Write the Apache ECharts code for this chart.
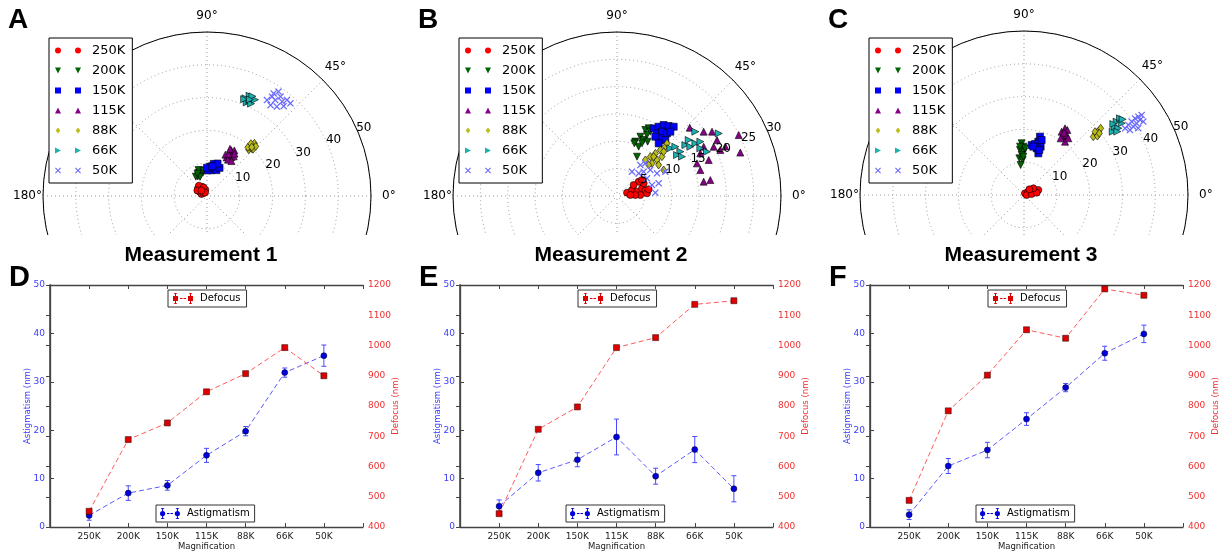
<!DOCTYPE html>
<html>
<head>
<meta charset="utf-8">
<script src="https://cdn.jsdelivr.net/npm/echarts@6/dist/echarts.min.js"></script>
<style>
html, body { margin: 0; padding: 0; background: #fff; }
#polar { position: absolute; left: 0; top: 0; width: 1232px; height: 235px; }
#lines { position: absolute; left: 0; top: 235px; width: 1232px; height: 319px; }
</style>
</head>
<body>
<div id="polar"></div>
<div id="lines"></div>
<script>
var magnifications = ['250K', '200K', '150K', '115K', '88K', '66K', '50K'];

// polar scatter, [astigmatism (nm), angle (deg)] per magnification
var polarPoints1 = [
    [[2.2,120],[3.0,130],[3.6,140],[2.6,150],[1.8,160],[3.2,118],[4.0,128],[2.0,105],[1.4,140],[2.8,112],[3.4,150],[1.2,120],[2.4,135]],
    [[7.0,105],[7.5,110],[8.0,104],[6.6,115],[7.2,100],[8.3,108],[6.8,120],[7.8,98],[6.2,110],[7.4,113]],
    [[8.0,80],[8.8,76],[9.6,72],[9.0,84],[8.4,70],[10.0,78],[7.8,88],[9.4,66],[8.6,90],[10.4,72],[9.2,80]],
    [[13.2,63],[14.0,58],[15.0,60],[15.8,62],[13.8,66],[14.6,56],[16.2,59],[12.8,60],[14.4,63],[15.4,57],[13.0,55],[16.0,64]],
    [[19.0,48],[19.8,47],[20.4,48.5],[21.0,47],[21.6,48],[20.0,45.5],[19.4,50],[20.8,50],[21.2,45.5],[20.2,47.5]],
    [[31.0,67],[31.8,66],[32.6,65],[33.2,67],[32.0,68.5],[31.2,64.5],[32.8,63.5],[31.6,69],[33.4,65.5],[32.2,66]],
    [[34.5,58],[37.3,57],[38.6,55.6],[33.8,55],[34.6,52],[36.8,51.5],[38.1,50.2],[38.0,48],[35.9,54.6],[36.2,56.8],[37.7,53.5],[36.0,49.5]]
];
var polarPoints2 = [
    [[1.93,18.4],[2.95,21.8],[3.74,12.2],[4.78,17],[5.27,10.7],[4.27,2.4],[3.36,3],[5.4,25.4],[4.75,33.5],[5.51,5.1],[3.65,33.4],[5.43,32.7],[2.45,4.3],[5.92,11.9]],
    [[10.5,71.4],[11.66,68.5],[13.14,66.8],[13.67,64.9],[11.35,64.5],[9.85,66.3],[12.43,63.8],[13.26,62.6],[8.07,63],[10.66,64.6],[10.14,71.8],[11.41,60.6]],
    [[14.08,61.5],[14.79,59],[15.54,56.7],[15.91,53.6],[16.38,50.7],[13.6,57.4],[14.36,55],[14.67,51.4],[13.2,53.1],[13.53,49.2],[12.92,57.1],[15.29,50.3],[12.28,51.6]],
    [[18.25,43.2],[19.74,36.6],[20.96,29.2],[24.9,26.6],[23.91,19.4],[18.24,29.6],[19.85,27],[18.02,21.4],[15.97,17.3],[16.07,9.4],[17.32,9.7],[17.12,27.1],[20.69,24],[15.8,22.2],[20.99,34.1],[21.78,24.5]],
    [[8.38,51.8],[9.43,49.7],[10.49,48],[11.56,46.7],[12.63,45.6],[13.28,46.5],[9.85,42],[8.76,43],[10.93,41.2],[8.11,44.4],[9.5,36.7],[9.78,29.1],[9.84,47],[11.78,43.5]],
    [[13.09,41.8],[13.97,40.2],[14.15,35],[15.6,36.7],[16.16,33.9],[17.27,33.9],[17.56,29.8],[18.54,39.4],[21.85,31.6],[13.3,34.3],[13.9,31.2],[18.35,26.2],[16.64,38],[18.2,33.1]],
    [[5.23,58.4],[7.1,53],[7.91,49.1],[7.73,38],[6.6,42.4],[5.74,46.3],[8.41,29.5],[6.71,17.4],[7.97,16.9],[7.04,5],[9.9,26.7],[6.37,30.5]]
];
var polarPoints3 = [
    [[0.59,59],[1.67,37.7],[2.69,29.4],[3.68,24.4],[4.63,19.2],[0.81,0],[2.36,7.3],[3.93,10.4],[3.5,35.5],[2.37,46.7]],
    [[15.77,92.6],[14.74,90.8],[13.77,95.1],[13.21,90],[12.22,93.3],[11.27,97.2],[10.68,92.2],[9.2,96.4],[14.23,88.8],[14.79,94.7],[11.69,91]],
    [[15.42,81.3],[15.91,77.8],[16.84,75],[18.44,74.7],[15.59,71],[14.74,74.8],[13.43,71],[15.01,79.1],[17.61,72.2],[14.49,71.2]],
    [[22.46,59.3],[23.86,58.4],[23.82,56.3],[21.45,56],[22.45,54.6],[20.58,57.1],[20.51,52.4],[21.94,52],[22.58,57.3]],
    [[27.62,40.1],[28.9,40.6],[30.05,40.7],[30.98,41],[29.01,41.7],[28.7,38.8],[29.68,39.3]],
    [[33.22,35.5],[34.69,36.9],[36.03,38.4],[37.46,38.6],[36.94,36.3],[35.22,35.3],[34.79,38.5],[37.91,37.5],[34.39,34.2]],
    [[36.9,33.4],[38.31,33.9],[39.72,34.3],[41.13,34.6],[42.25,34.4],[43.38,34.2],[39.3,32],[40.71,32.5],[42.12,32.9],[37.91,31.5],[42.7,31.6],[40.35,30.3]]
];
var polarMax = [50, 30, 50];
var polarStep = [10, 5, 10];

// mean astigmatism / defocus per magnification
var astig1 = [2.4, 7.0, 8.6, 14.8, 19.8, 31.9, 35.4];
var astigErr1 = [1.0, 1.5, 1.0, 1.45, 0.95, 0.95, 2.2];
var defocus1 = [452, 689, 744, 847, 907, 993, 900];
var astig2 = [4.3, 11.2, 13.9, 18.6, 10.5, 16.0, 7.9];
var astigErr2 = [1.3, 1.7, 1.45, 3.7, 1.65, 2.7, 2.7];
var defocus2 = [444, 723, 797, 993, 1026, 1136, 1148];
var astig3 = [2.55, 12.6, 15.9, 22.3, 28.8, 35.9, 39.9];
var astigErr3 = [1.0, 1.55, 1.6, 1.3, 0.85, 1.45, 1.8];
var defocus3 = [488, 784, 902, 1052, 1024, 1187, 1166];

var FONT = 'DejaVu Sans';

var markerColors = ['#ff0000', '#006400', '#0000ff', '#880088', '#bcbc1a', '#1fb0b0', '#6a6aff'];
var markerSymbols = [
    'circle',
    'path://M0,0L2,0L1,2Z',
    'rect',
    'triangle',
    'path://M3,0L5.5,4L3,8L0.5,4Z',
    'path://M0,0L2,1L0,2Z',
    'path://M0,0.75L0.75,0L3,2.25L5.25,0L6,0.75L3.75,3L6,5.25L5.25,6L3,3.75L0.75,6L0,5.25L2.25,3Z'
];
var markerSizes = [7, 7, 7, 7, [6, 8], 7, 7];
// two markers side by side, like the matplotlib legend
var legendIcons = [
    'path://M0,3A3,3,0,1,1,6,3A3,3,0,1,1,0,3Z M20,3A3,3,0,1,1,26,3A3,3,0,1,1,20,3Z',
    'path://M0,0L6,0L3,6Z M20,0L26,0L23,6Z',
    'path://M0,0H6V6H0Z M20,0H26V6H20Z',
    'path://M0,6L6,6L3,0Z M20,6L26,6L23,0Z',
    'path://M3,0L5.3,3L3,6L0.7,3Z M23,0L25.3,3L23,6L20.7,3Z',
    'path://M0,0L6,3L0,6Z M20,0L26,3L20,6Z',
    'path://M0,0.75L0.75,0L3,2.25L5.25,0L6,0.75L3.75,3L6,5.25L5.25,6L3,3.75L0.75,6L0,5.25L2.25,3Z M20,0.75L20.75,0L23,2.25L25.25,0L26,0.75L23.75,3L26,5.25L25.25,6L23,3.75L20.75,6L20,5.25L22.25,3Z'
];

var polarCenters = [[207, 196], [617, 196], [1024, 195]];
var panelLeft = [0, 410, 820];
var letters = ['A', 'B', 'C'];

var polarChart = echarts.init(document.getElementById('polar'), null, { renderer: 'canvas' });
var polar = [], angleAxis = [], radiusAxis = [], pSeries = [], pLegend = [], pGraphic = [];
var allPoints = [polarPoints1, polarPoints2, polarPoints3];

for (var k = 0; k < 3; k++) {
    // the grid polar
    polar.push({ center: polarCenters[k], radius: 164 });
    angleAxis.push({
        polarIndex: k, type: 'value', min: 0, max: 360, interval: 45,
        startAngle: 0, clockwise: false, z: 1,
        axisLine: { show: true, lineStyle: { color: '#000', width: 1 } },
        axisTick: { show: false },
        axisLabel: {
            margin: 1, fontSize: 12, color: '#000', fontFamily: FONT,
            formatter: function (v) { return v <= 180 ? '{a' + v + '|' + v + '°}' : ''; },
            rich: {
                a0: { fontSize: 12, padding: [0, 0, 0, 10] },
                a45: { fontSize: 12, padding: [0, 0, 6, 1] },
                a90: { fontSize: 12, padding: [0, 0, 9, 0] },
                a135: { fontSize: 12, padding: [0, 1, 6, 0] },
                a180: { fontSize: 12 }
            }
        },
        splitLine: { show: true, lineStyle: { color: '#999', type: [1, 3], width: 1 } }
    });
    radiusAxis.push({
        polarIndex: k, type: 'value', min: 0, max: polarMax[k], interval: polarStep[k], z: 1,
        axisLine: { show: false }, axisTick: { show: false }, axisLabel: { show: false },
        splitLine: { show: true, lineStyle: { color: '#999', type: [1, 3], width: 1 } }
    });
}
for (var k = 0; k < 3; k++) {
    // a second polar only for the radius labels along 22.5 deg
    polar.push({ center: polarCenters[k], radius: 164 });
    angleAxis.push({
        polarIndex: 3 + k, type: 'value', min: 0, max: 360, startAngle: 22.5, clockwise: false,
        show: false
    });
    radiusAxis.push({
        polarIndex: 3 + k, type: 'value', min: 0, max: polarMax[k], interval: polarStep[k], z: 3,
        axisLine: { show: false }, axisTick: { show: false }, splitLine: { show: false },
        axisLabel: {
            fontSize: 12, color: '#000', fontFamily: FONT, margin: 6, align: 'left',
            formatter: function (v) { return v === 0 ? '' : String(v); }
        }
    });
}

for (var k = 0; k < 3; k++) {
    var legendData = [];
    for (var j = 0; j < magnifications.length; j++) {
        pSeries.push({
            type: 'scatter', coordinateSystem: 'polar', polarIndex: k,
            name: magnifications[j],
            data: allPoints[k][j],
            symbol: markerSymbols[j],
            symbolSize: markerSizes[j],
            itemStyle: {
                color: markerColors[j],
                borderColor: j === 6 ? markerColors[j] : '#000',
                borderWidth: j === 6 ? 0 : 0.6,
                opacity: 1
            },
            emphasis: { disabled: true },
            z: 2
        });
        legendData.push({ name: magnifications[j], icon: legendIcons[j] });
    }
    pLegend.push({
        left: panelLeft[k] + 49, top: 38, orient: 'vertical',
        data: legendData,
        itemWidth: 26, itemHeight: 6, itemGap: 5,
        padding: [5, 7, 5, 6],
        backgroundColor: '#fff', borderColor: '#000', borderWidth: 1,
        selectedMode: false, z: 10,
        itemStyle: { borderWidth: 0 },
        textStyle: { fontSize: 13, lineHeight: 15, color: '#000', fontFamily: FONT, padding: [0, 0, 0, 6] }
    });
    pGraphic.push({
        type: 'text', left: panelLeft[k] + 8, top: 6, z: 20,
        style: { text: letters[k], font: 'bold 28px "Liberation Sans", Arial', fill: '#000' }
    });
}

polarChart.setOption({
    animation: false,
    textStyle: { fontFamily: FONT },
    polar: polar,
    angleAxis: angleAxis,
    radiusAxis: radiusAxis,
    legend: pLegend,
    series: pSeries,
    graphic: pGraphic
});

// ---- bottom row: astigmatism and defocus vs magnification ----
var lineChart = echarts.init(document.getElementById('lines'), null, { renderer: 'canvas' });
var gridLeft = [50, 460, 870];
var astigAll = [astig1, astig2, astig3];
var astigErrAll = [astigErr1, astigErr2, astigErr3];
var defocusAll = [defocus1, defocus2, defocus3];
var titles = ['Measurement 1', 'Measurement 2', 'Measurement 3'];
var titleCenters = [201, 611, 1021];
var lowLetters = ['D', 'E', 'F'];
var letterX = [9, 419, 829];

var BLUE_MARK = '#0000dd', BLUE_LINE = '#5a5aff', BLUE_TEXT = '#3b3bff';
var RED_MARK = '#dd0000', RED_LINE = '#ff5a5a', RED_TEXT = '#f03030';
var SPINE = '#444';

var defocusIcon = 'path://M0,3H5V8H0Z M2,0H3V11H2Z M1,0H4V0.8H1Z M1,10.2H4V11H1Z M7,5H9.5V6H7Z M10.5,5H13V6H10.5Z M15,3H20V8H15Z M17,0H18V11H17Z M16,0H19V0.8H16Z M16,10.2H19V11H16Z';
var astigIcon = 'path://M0,5.5A2.6,2.6,0,1,1,5.2,5.5A2.6,2.6,0,1,1,0,5.5Z M2.1,0H3.1V11H2.1Z M1,0H4.2V0.8H1Z M1,10.2H4.2V11H1Z M7,5H9.5V6H7Z M10.5,5H13V6H10.5Z M14.8,5.5A2.6,2.6,0,1,1,20,5.5A2.6,2.6,0,1,1,14.8,5.5Z M16.9,0H17.9V11H16.9Z M15.8,0H19V0.8H15.8Z M15.8,10.2H19V11H15.8Z';

function errorBars(color) {
    return function (params, api) {
        var x = api.value(0);
        var lo = api.coord([x, api.value(1)]);
        var hi = api.coord([x, api.value(2)]);
        var w = 2.5;
        var style = { stroke: color, lineWidth: 1 };
        return {
            type: 'group',
            children: [
                { type: 'line', shape: { x1: lo[0], y1: lo[1], x2: hi[0], y2: hi[1] }, style: style },
                { type: 'line', shape: { x1: lo[0] - w, y1: lo[1], x2: lo[0] + w, y2: lo[1] }, style: style },
                { type: 'line', shape: { x1: hi[0] - w, y1: hi[1], x2: hi[0] + w, y2: hi[1] }, style: style }
            ]
        };
    };
}

var grids = [], xAxes = [], yAxes = [], lSeries = [], lLegend = [], lGraphic = [];
for (var k = 0; k < 3; k++) {
    grids.push({
        left: gridLeft[k], top: 50, width: 313, height: 242, show: false,
        outerBoundsMode: 'none', containLabel: false
    });
    var xBase = {
        gridIndex: k, type: 'value', min: 0, max: 8, interval: 1,
        axisLine: { show: true, onZero: false, lineStyle: { color: SPINE, width: 1.3 } },
        axisTick: { show: true, inside: true, length: 4, lineStyle: { color: SPINE } },
        splitLine: { show: false }
    };
    xAxes.push(Object.assign({}, xBase, {
        position: 'bottom',
        name: 'Magnification', nameLocation: 'middle', nameGap: 15, nameMoveOverlap: false,
        nameTextStyle: { fontSize: 8.5, color: '#222', fontFamily: FONT },
        axisLabel: {
            fontSize: 9, color: '#222', margin: 5, fontFamily: FONT,
            formatter: function (v) { return magnifications[v - 1] || ''; }
        }
    }));
    xAxes.push(Object.assign({}, xBase, { position: 'top', axisLabel: { show: false } }));
    yAxes.push({
        gridIndex: k, type: 'value', position: 'left', min: 0, max: 50, interval: 10,
        axisLine: { show: true, lineStyle: { color: SPINE, width: 1.3 } },
        axisTick: { show: true, inside: true, length: 4, lineStyle: { color: SPINE } },
        axisLabel: { fontSize: 9, color: BLUE_TEXT, margin: 5, fontFamily: FONT },
        splitLine: { show: false },
        name: 'Astigmatism (nm)', nameLocation: 'middle', nameGap: 17.5, nameMoveOverlap: false,
        nameTextStyle: { fontSize: 8.5, color: BLUE_TEXT, fontFamily: FONT }
    });
    yAxes.push({
        gridIndex: k, type: 'value', position: 'right', min: 400, max: 1200, interval: 100,
        axisLine: { show: true, lineStyle: { color: SPINE, width: 1.6 } },
        axisTick: { show: true, inside: true, length: 4, lineStyle: { color: SPINE } },
        axisLabel: {
            fontSize: 9, color: RED_TEXT, margin: 5, fontFamily: FONT,
            formatter: function (v) { return String(v); }
        },
        splitLine: { show: false },
        name: 'Defocus (nm)', nameLocation: 'middle', nameGap: 28, nameMoveOverlap: false,
        nameTextStyle: { fontSize: 8.5, color: RED_TEXT, fontFamily: FONT }
    });

    var astigData = [], errData = [], defocusData = [];
    for (var i = 0; i < magnifications.length; i++) {
        astigData.push([i + 1, astigAll[k][i]]);
        errData.push([i + 1, astigAll[k][i] - astigErrAll[k][i], astigAll[k][i] + astigErrAll[k][i]]);
        defocusData.push([i + 1, defocusAll[k][i]]);
    }
    lSeries.push({
        type: 'custom', name: 'astigErr' + k, xAxisIndex: 2 * k, yAxisIndex: 2 * k,
        renderItem: errorBars('#4a4aff'), data: errData,
        encode: { x: 0, y: [1, 2] }, z: 3, silent: true
    });
    lSeries.push({
        type: 'line', name: 'Astigmatism', xAxisIndex: 2 * k, yAxisIndex: 2 * k,
        data: astigData, symbol: 'circle', symbolSize: 6,
        itemStyle: { color: BLUE_MARK, borderColor: '#000022', borderWidth: 0.5 },
        lineStyle: { color: BLUE_LINE, width: 1, type: [5, 3] },
        z: 4, emphasis: { disabled: true }
    });
    lSeries.push({
        type: 'line', name: 'Defocus', xAxisIndex: 2 * k, yAxisIndex: 2 * k + 1,
        data: defocusData, symbol: 'rect', symbolSize: 6,
        itemStyle: { color: RED_MARK, borderColor: '#220000', borderWidth: 0.5 },
        lineStyle: { color: RED_LINE, width: 1, type: [5, 3] },
        z: 4, emphasis: { disabled: true }
    });

    var boxStyle = {
        orient: 'horizontal', itemHeight: 11, itemWidth: 20,
        backgroundColor: '#fff', borderColor: '#333', borderWidth: 1,
        selectedMode: false, z: 10,
        itemStyle: { borderWidth: 0 },
        lineStyle: { width: 0 },
        textStyle: { fontSize: 10, color: '#000', fontFamily: FONT, padding: [0, 0, 0, 2] }
    };
    lLegend.push(Object.assign({}, boxStyle, {
        left: gridLeft[k] + 118, top: 55, padding: [3, 6, 3, 5],
        data: [{ name: 'Defocus', icon: defocusIcon }]
    }));
    lLegend.push(Object.assign({}, boxStyle, {
        left: gridLeft[k] + 106, top: 270, padding: [3, 5, 3, 4],
        data: [{ name: 'Astigmatism', icon: astigIcon }]
    }));

    lGraphic.push({
        type: 'text', left: letterX[k], top: 28, z: 20,
        style: { text: lowLetters[k], font: 'bold 29px "Liberation Sans", Arial', fill: '#000' }
    });
    lGraphic.push({
        type: 'text', x: titleCenters[k], y: 20, z: 20,
        style: {
            text: titles[k], font: 'bold 21px "Liberation Sans", Arial', fill: '#000',
            textAlign: 'center', textVerticalAlign: 'middle'
        }
    });
}

lineChart.setOption({
    animation: false,
    textStyle: { fontFamily: FONT },
    grid: grids,
    xAxis: xAxes,
    yAxis: yAxes,
    legend: lLegend,
    series: lSeries,
    graphic: lGraphic
});

window.addEventListener('resize', function () {
    polarChart.resize();
    lineChart.resize();
});
</script>
</body>
</html>
